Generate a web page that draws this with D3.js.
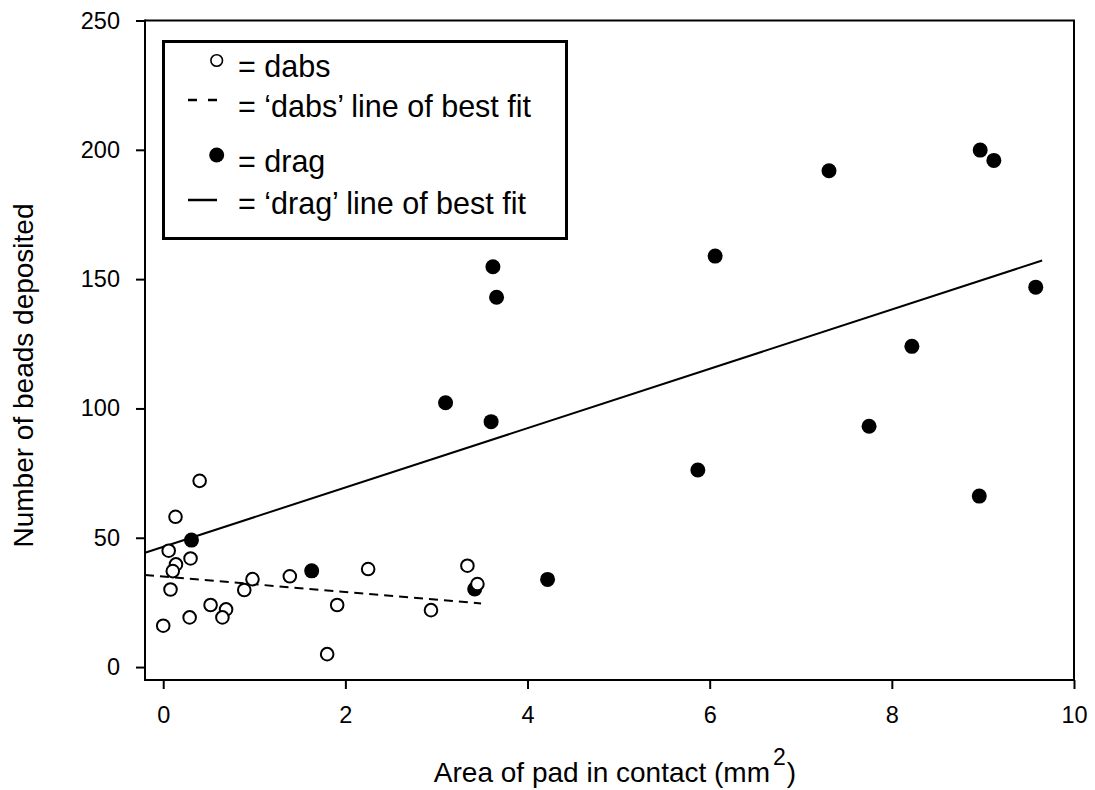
<!DOCTYPE html>
<html>
<head>
<meta charset="utf-8">
<script src="https://cdn.jsdelivr.net/npm/d3@7"></script>
<style>
  html, body { margin: 0; padding: 0; background: #fff; }
  svg text { font-family: "Liberation Sans", Arial, sans-serif; fill: #000; }
</style>
</head>
<body>
<svg id="chart" width="1095" height="790"></svg>
<script>
// ---- data ----
const dabsX = [0.135, 0.06, 0.30, 0.14, 0.105, 0.08, 0.0, 0.29, 0.52, 0.69, 0.65, 0.89, 0.98, 1.39, 1.80, 1.91, 2.25, 2.94, 3.34, 3.45, 0.40];
const dabsY = [58.1, 45.0, 42.0, 39.7, 37.1, 30.0, 16.0, 19.2, 24.0, 22.3, 19.2, 29.8, 34.0, 35.1, 5.0, 24.0, 37.9, 22.0, 39.2, 32.1, 72.0];

const dragX = [0.31, 1.63, 3.42, 3.10, 3.62, 3.66, 3.60, 4.22, 5.87, 6.06, 7.31, 7.75, 8.22, 8.96, 8.97, 9.12, 9.58];
const dragY = [49.1, 37.2, 30.2, 102.2, 154.8, 143.0, 94.9, 33.9, 76.2, 158.9, 191.9, 93.1, 124.0, 66.1, 199.9, 195.9, 146.9];

// best-fit lines: [intercept, slope], x extent
const dabsFit = [35.0, -2.98];
const dabsFitRange = [-0.2, 3.49];
const dragFit = [46.5, 11.47];
const dragFitRange = [-0.2, 9.65];

const xTicks = [0, 2, 4, 6, 8, 10];
const yTicks = [0, 50, 100, 150, 200, 250];

const xTitle = "Area of pad in contact (mm";
const xTitleSup = "2";
const yTitle = "Number of beads deposited";
const legendLabels = ["= dabs", "= \u2018dabs\u2019 line of best fit", "= drag", "= \u2018drag\u2019 line of best fit"];

// ---- layout ----
const svg = d3.select("#chart");
const L = 145, R = 1074, T = 20.5, B = 680;
const x = d3.scaleLinear().domain([-0.2, 10]).range([L, R]);
const y = d3.scaleLinear().domain([-5, 250]).range([B, T]);

// frame (top and right)
svg.append("path")
  .attr("d", `M${L},${T} H${R} V${B}`)
  .attr("fill", "none").attr("stroke", "#000").attr("stroke-width", 2);

// axes
const xAxis = svg.append("g").attr("transform", `translate(0,${B})`)
  .call(d3.axisBottom(x).tickValues(xTicks).tickSize(9).tickPadding(17).tickFormat(d3.format("d")));
const yAxis = svg.append("g").attr("transform", `translate(${L},0)`)
  .call(d3.axisLeft(y).tickValues(yTicks).tickSize(9).tickPadding(16).tickFormat(d3.format("d")));
[xAxis, yAxis].forEach(g => {
  g.select(".domain").remove();
  g.selectAll("line").attr("stroke", "#000").attr("stroke-width", 2);
  g.selectAll("text").attr("font-size", 23.5).attr("font-family", "Liberation Sans, Arial, sans-serif").attr("fill", "#000");
});
// axis lines
svg.append("line").attr("x1", L).attr("x2", L).attr("y1", T - 1).attr("y2", B + 1).attr("stroke", "#000").attr("stroke-width", 2);
svg.append("line").attr("x1", L - 1).attr("x2", R + 1).attr("y1", B).attr("y2", B).attr("stroke", "#000").attr("stroke-width", 2);

// fit lines
const fitLine = (fit, range) => d3.line()(range.map(v => [x(v), y(fit[0] + fit[1] * v)]));
svg.append("path").attr("d", fitLine(dragFit, dragFitRange))
  .attr("fill", "none").attr("stroke", "#000").attr("stroke-width", 2);
svg.append("path").attr("d", fitLine(dabsFit, dabsFitRange))
  .attr("fill", "none").attr("stroke", "#000").attr("stroke-width", 2).attr("stroke-dasharray", "9,6");

// drag (filled)
svg.append("g").selectAll("circle").data(d3.range(dragX.length)).join("circle")
  .attr("cx", i => x(dragX[i])).attr("cy", i => y(dragY[i])).attr("r", 7.5)
  .attr("fill", "#000");
// dabs (open)
svg.append("g").selectAll("circle").data(d3.range(dabsX.length)).join("circle")
  .attr("cx", i => x(dabsX[i])).attr("cy", i => y(dabsY[i])).attr("r", 6.3)
  .attr("fill", "#fff").attr("stroke", "#000").attr("stroke-width", 2);

// titles
const xt = svg.append("text").attr("x", 615).attr("y", 782).attr("text-anchor", "middle").attr("font-size", 28);
xt.append("tspan").text(xTitle);
xt.append("tspan").attr("dx", 3).attr("dy", -17).attr("font-size", 23).text(xTitleSup);
xt.append("tspan").attr("dx", 1).attr("dy", 17).text(")");

svg.append("text").attr("transform", "translate(33,375.5) rotate(-90)")
  .attr("text-anchor", "middle").attr("font-size", 28).text(yTitle);

// legend
const lg = svg.append("g");
lg.append("rect").attr("x", 163.5).attr("y", 41.5).attr("width", 403).attr("height", 197)
  .attr("fill", "#fff").attr("stroke", "#000").attr("stroke-width", 3);
const rowY = [77, 117, 172, 213.5];
const textX = 238;
lg.append("circle").attr("cx", 216.7).attr("cy", 60.5).attr("r", 5.8)
  .attr("fill", "#fff").attr("stroke", "#000").attr("stroke-width", 1.6);
lg.append("line").attr("x1", 188).attr("x2", 217).attr("y1", 100).attr("y2", 100)
  .attr("stroke", "#000").attr("stroke-width", 2.5).attr("stroke-dasharray", "9,11");
lg.append("circle").attr("cx", 216.7).attr("cy", 155).attr("r", 7.5).attr("fill", "#000");
lg.append("line").attr("x1", 188).attr("x2", 217).attr("y1", 200).attr("y2", 200)
  .attr("stroke", "#000").attr("stroke-width", 2.5);
legendLabels.forEach((t, i) => {
  lg.append("text").attr("x", textX).attr("y", rowY[i]).attr("font-size", 30.5).text(t);
});
</script>
</body>
</html>
